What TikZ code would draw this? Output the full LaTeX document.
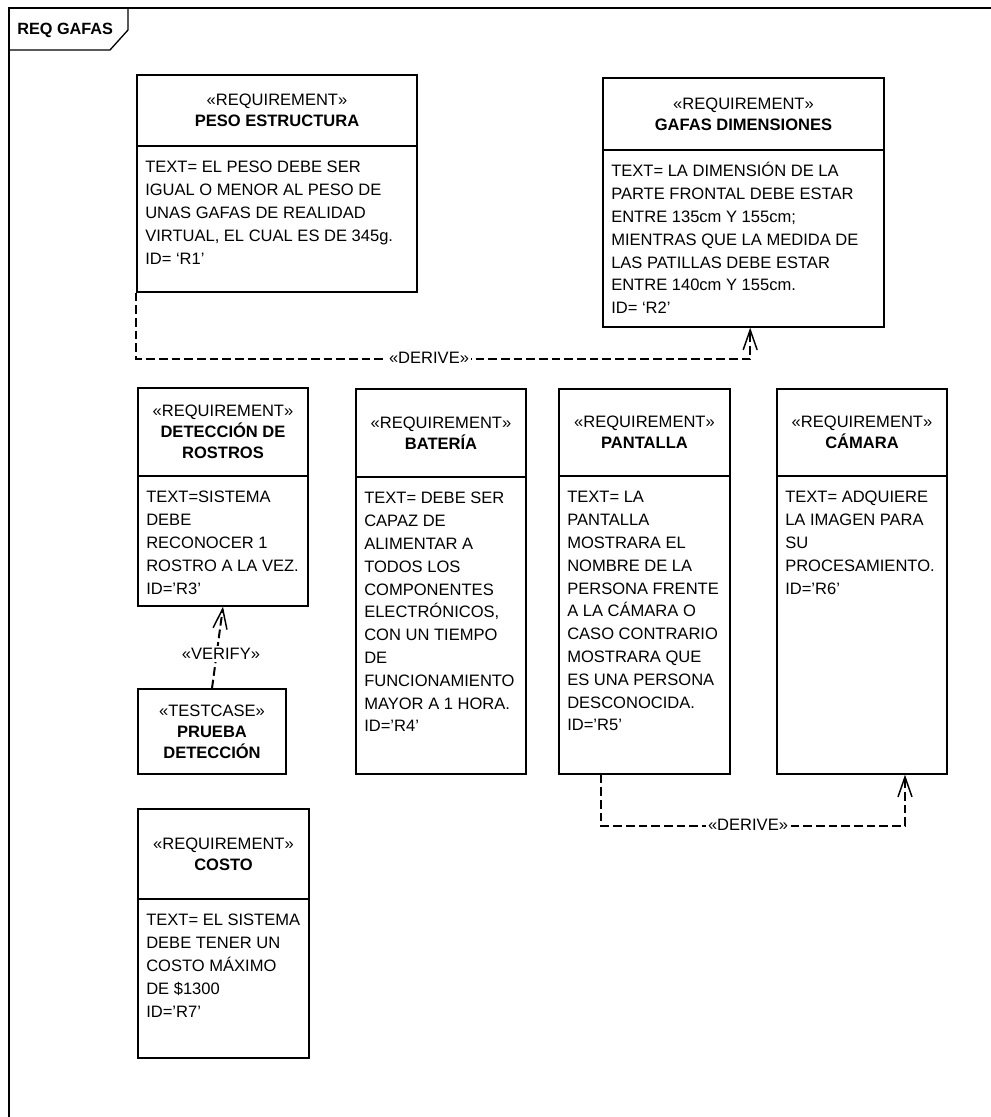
\documentclass[tikz,border=0pt]{standalone}
\usepackage{fontspec}
\setmainfont{Liberation Sans}
\usetikzlibrary{fit,arrows.meta}
\tikzset{
  boxst/.style={draw=black, line width=1pt, inner sep=0pt},
  divline/.style={draw=black, line width=1pt},
  hdr/.style={align=center, inner sep=0pt, font=\fontsize{12.4}{15.8}\selectfont},
  bodytxt/.style={anchor=north west, align=left, inner sep=0pt, font=\fontsize{12.4}{17.1}\selectfont},
  dep/.style={draw=black, line width=1.5pt, dash pattern=on 6.5pt off 3pt, -{Straight Barb[length=15pt,width=10.5pt,line width=1.1pt]}},
  lbl/.style={fill=white, inner sep=1.5pt, font=\fontsize{12.4}{15}\selectfont},
}
\newcommand\reqbox[8]{%
  \node[boxst, fit={(#2,#3)(#4,#5)}] (#1) {};
  \draw[divline] (#2,#6) -- (#4,#6);
  \node[hdr] (#1-h) at ({(#2+#4)/2},{(#3+#6)/2}) {#7};
  \node[bodytxt] (#1-b) at ({#2+8},{#6+12}) {\rule{0pt}{11pt}#8};
}
\begin{document}
\begin{tikzpicture}[x=0.75pt,y=-0.75pt]
\useasboundingbox (0,0) rectangle (991,1117);
% frame
\draw[line width=1.1pt] (991,8) -- (9,8) -- (9,1117);
\draw[line width=1pt] (9,50) -- (110,50) -- (128,30) -- (128,8);
\node[anchor=west, inner sep=0pt, font=\fontsize{12.2}{14}\selectfont\bfseries] (title) at (17,30) {REQ GAFAS};

\reqbox{r1}{137}{75}{417}{292}{146}{«REQUIREMENT»\\\textbf{PESO ESTRUCTURA}}%
{TEXT= EL PESO DEBE SER\\IGUAL O MENOR AL PESO DE\\UNAS GAFAS DE REALIDAD\\VIRTUAL, EL CUAL ES DE 345g.\\ID= ‘R1’}

\reqbox{r2}{603}{78}{884}{327}{150}{«REQUIREMENT»\\\textbf{GAFAS DIMENSIONES}}%
{TEXT= LA DIMENSIÓN DE LA\\PARTE FRONTAL DEBE ESTAR\\ENTRE 135cm Y 155cm;\\MIENTRAS QUE LA MEDIDA DE\\LAS PATILLAS DEBE ESTAR\\ENTRE 140cm Y 155cm.\\ID= ‘R2’}

\reqbox{r3}{138}{388}{308}{606}{476}{«REQUIREMENT»\\\textbf{DETECCIÓN DE}\\\textbf{ROSTROS}}%
{TEXT=SISTEMA\\DEBE\\RECONOCER 1\\ROSTRO A LA VEZ.\\ID='R3'}

\reqbox{r4}{356}{389}{526}{774}{477}{«REQUIREMENT»\\\textbf{BATERÍA}}%
{TEXT= DEBE SER\\CAPAZ DE\\ALIMENTAR A\\TODOS LOS\\COMPONENTES\\ELECTRÓNICOS,\\CON UN TIEMPO\\DE\\FUNCIONAMIENTO\\MAYOR A 1 HORA.\\ID='R4'}

\reqbox{r5}{559}{389}{730}{774}{476}{«REQUIREMENT»\\\textbf{PANTALLA}}%
{TEXT= LA\\PANTALLA\\MOSTRARA EL\\NOMBRE DE LA\\PERSONA FRENTE\\A LA CÁMARA O\\CASO CONTRARIO\\MOSTRARA QUE\\ES UNA PERSONA\\DESCONOCIDA.\\ID='R5'}

\reqbox{r6}{777}{389}{947}{774}{476}{«REQUIREMENT»\\\textbf{CÁMARA}}%
{TEXT= ADQUIERE\\LA IMAGEN PARA\\SU\\PROCESAMIENTO.\\ID='R6'}

\reqbox{r7}{138}{809}{309}{1058}{899}{«REQUIREMENT»\\\textbf{COSTO}}%
{TEXT= EL SISTEMA\\DEBE TENER UN\\COSTO MÁXIMO\\DE \$1300\\ID='R7'}

% test case
\node[boxst, fit={(138,689)(286,774)}] (tc) {};
\node[hdr] (tc-h) at (212,731.5) {«TESTCASE»\\\textbf{PRUEBA}\\\textbf{DETECCIÓN}};

% connectors
\draw[dep] (r1.south west) -- ++(0,66) -| ([xshift=5pt]r2.south);
\node[lbl] (d1) at (429,358) {«DERIVE»};

\draw[dep] (tc.north) -- (r3.south);
\node[lbl] (v1) at (221,654) {«VERIFY»};

\draw[dep] ([xshift=32pt]r5.south west) -- ++(0,51) -| ([xshift=-32pt]r6.south east);
\node[lbl] (d2) at (748,825) {«DERIVE»};
\end{tikzpicture}
\end{document}
